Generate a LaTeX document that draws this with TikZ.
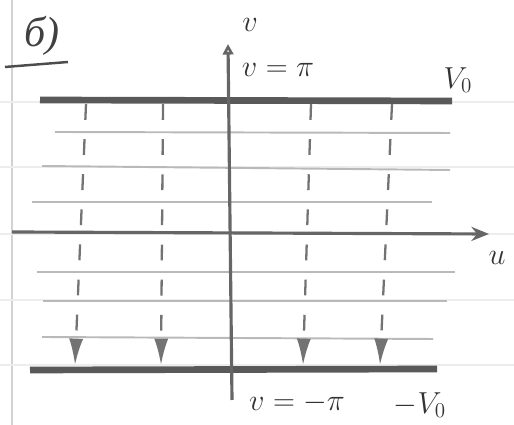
\documentclass[tikz,border=0pt]{standalone}
\usepackage{fontspec}
\newfontfamily\cyrfont{Liberation Serif}
\usetikzlibrary{arrows.meta}
\tikzset{
  ruled/.style={gray!14, line width=0.6pt},
  boundary/.style={black!65, line width=3.8pt},
  level/.style={gray!55, line width=1.1pt},
  axis/.style={black!60, line width=1.8pt},
  flow/.style={black!55, line width=1.3pt, dash pattern=on 9pt off 11pt,
    -{Latex[length=15pt,width=8pt]}},
  lbl/.style={font=\LARGE, text=black!80}
}
\begin{document}
\begin{tikzpicture}
  \useasboundingbox (0,0) rectangle (10.28,8.5);

  % Paper: margin and ruled lines
  \draw[gray!35, line width=1.2pt] (0.24,0) -- (0.24,8.5);
  \foreach \y in {6.46,5.16,3.82,2.5,1.2}
    \draw[ruled] (0,\y) -- (10.28,\y);

  % Title
  \node[font=\cyrfont\itshape\fontsize{24}{26}\selectfont, text=black!75] (title) at (0.84,7.78) {б)};
  \draw[black!70, line width=1.4pt] (0.1,7.16) -- (1.36,7.26);

  % Level lines between the boundaries
  \draw[level] (1.1,5.86) -- (9.0,5.84);
  \draw[level] (0.84,5.18) -- (9.0,5.1);
  \draw[level] (0.64,4.46) -- (8.64,4.46);
  \draw[level] (0.74,3.06) -- (9.1,3.06);
  \draw[level] (0.86,2.48) -- (8.94,2.48);
  \draw[level] (0.84,1.76) -- (8.66,1.72);

  % Boundaries v = pi and v = -pi
  \draw[boundary] (0.8,6.5) -- (9.04,6.48);
  \draw[boundary] (0.6,1.1) -- (8.74,1.12);

  % Axes
  \coordinate (uL) at (0.24,3.86);
  \coordinate (uR) at (9.78,3.82);
  \coordinate (vB) at (4.64,0.5);
  \coordinate (vT) at (4.56,7.62);
  \draw[axis, -{Stealth[length=10pt,width=8pt]}] (uL) -- (uR);
  \draw[axis, -{Triangle[open,length=6pt,width=6pt]}] (vB) -- (vT);

  % Flow from top to bottom
  \foreach \name/\xa/\xb in {fa/1.72/1.5, fb/3.26/3.22, fc/6.22/6.06, fd/7.84/7.6} {
    \coordinate (\name s) at (\xa,6.42);
    \coordinate (\name e) at (\xb,1.2);
    \draw[flow] (\name s) -- (\name e);
  }

  % Labels
  \node[lbl] (vlab) at (5.0,8.0) {$v$};
  \node[lbl] (ulab) at (9.94,3.34) {$u$};
  \node[lbl] (top) at (5.56,7.1) {$v=\pi$};
  \node[lbl] (topV) at (9.16,6.9) {$V_0$};
  \node[lbl] (bot) at (5.94,0.44) {$v=-\pi$};
  \node[lbl] (botV) at (8.4,0.4) {$-V_0$};
\end{tikzpicture}
\end{document}
